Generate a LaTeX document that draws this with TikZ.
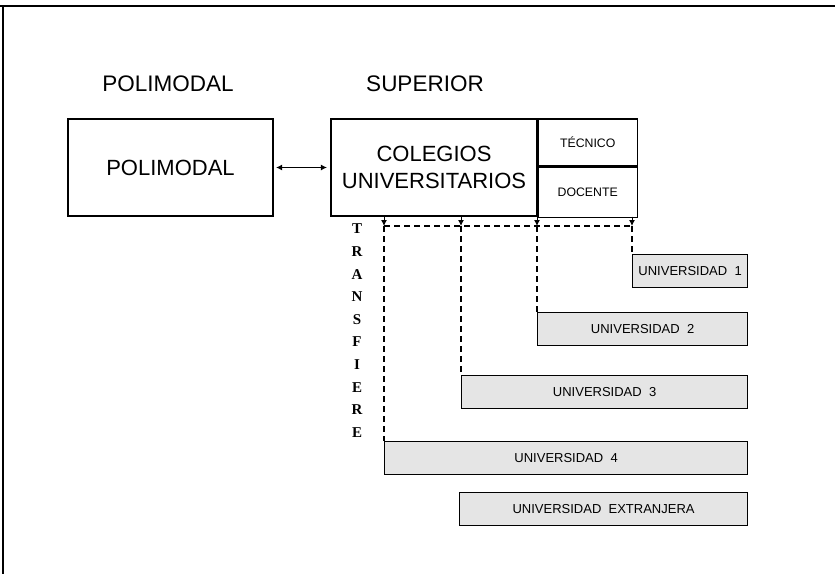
\documentclass[tikz,border=0pt]{standalone}
\usepackage{fontspec}
\setmainfont{Liberation Sans}
\newfontfamily\serifbf{Liberation Serif}
\usetikzlibrary{arrows.meta,positioning,calc}

\begin{document}
\begin{tikzpicture}[x=1pt,y=-1pt,
    box/.style={draw, line width=1.2pt, inner sep=0pt, align=center, font=\fontsize{22}{27}\selectfont},
    subbox/.style={draw, line width=1.2pt, inner sep=0pt, minimum width=99pt, font=\fontsize{12.3}{14}\selectfont},
    uni/.style={draw, line width=1.2pt, fill=black!10, inner sep=0pt, minimum height=33pt, anchor=north west, font=\fontsize{13}{15}\selectfont},
    head/.style={font=\fontsize{22.5}{26}\selectfont},
    link/.style={line width=1.3pt, dash pattern=on 6pt off 4pt},
    tip/.style={-{Latex[length=6pt,width=6pt]}, line width=1pt},
    letter/.style={font=\serifbf\bfseries\fontsize{15}{17}\selectfont, inner sep=0pt}
]
\useasboundingbox (0,0) rectangle (835,574);
\draw[line width=2.5pt] (0,6) -- (835,6);
\draw[line width=1.5pt] (3,6) -- (3,574);

\node[head] (hpoli) at (168,84) {POLIMODAL};
\node[head] (hsup) at (425,84) {SUPERIOR};

\node[box, minimum width=205pt, minimum height=97pt] (poli) at (170.5,167.5) {POLIMODAL};
\node[box, minimum width=206pt, minimum height=97pt] (col) at (434,167.5) {COLEGIOS\\UNIVERSITARIOS};
\node[subbox, minimum height=47pt, anchor=north west] (tec) at (col.north east) {TÉCNICO};
\node[subbox, minimum height=50pt, anchor=north west] (doc) at (tec.south west) {DOCENTE};

\draw[{Latex[length=6pt,width=6pt]}-{Latex[length=6pt,width=6pt]}, line width=1pt, shorten <=2.5pt, shorten >=3.5pt] (poli.east) -- (col.west);

\node[uni, minimum width=115pt] (u1) at (632,254) {UNIVERSIDAD~~1};
\node[uni, minimum width=210pt] (u2) at (537,312) {UNIVERSIDAD~~2};
\node[uni, minimum width=286pt] (u3) at (461,375) {UNIVERSIDAD~~3};
\node[uni, minimum width=363pt] (u4) at (384,441) {UNIVERSIDAD~~4};
\node[uni, minimum width=288pt] (ext) at (459,492) {UNIVERSIDAD~~EXTRANJERA};

\coordinate (d1) at (632,226);
\coordinate (d2) at (537,226);
\coordinate (d3) at (461,226);
\coordinate (d4) at (384,226);

\draw[link] (d4) -- (d1);
\foreach \d in {d1,d2,d3,d4}
    \draw[tip] (\d |- col.south) -- (\d);
\draw[link] (d1) -- (u1.north west);
\draw[link] (d2) -- (u2.north west);
\draw[link] (d3) -- (u3.north west);
\draw[link] (d4) -- (u4.north west);

\foreach \l [count=\i] in {T,R,A,N,S,F,I,E,R,E}
    \node[letter] (t\i) at (357,{229+22.6*(\i-1)}) {\l};
\end{tikzpicture}
\end{document}
